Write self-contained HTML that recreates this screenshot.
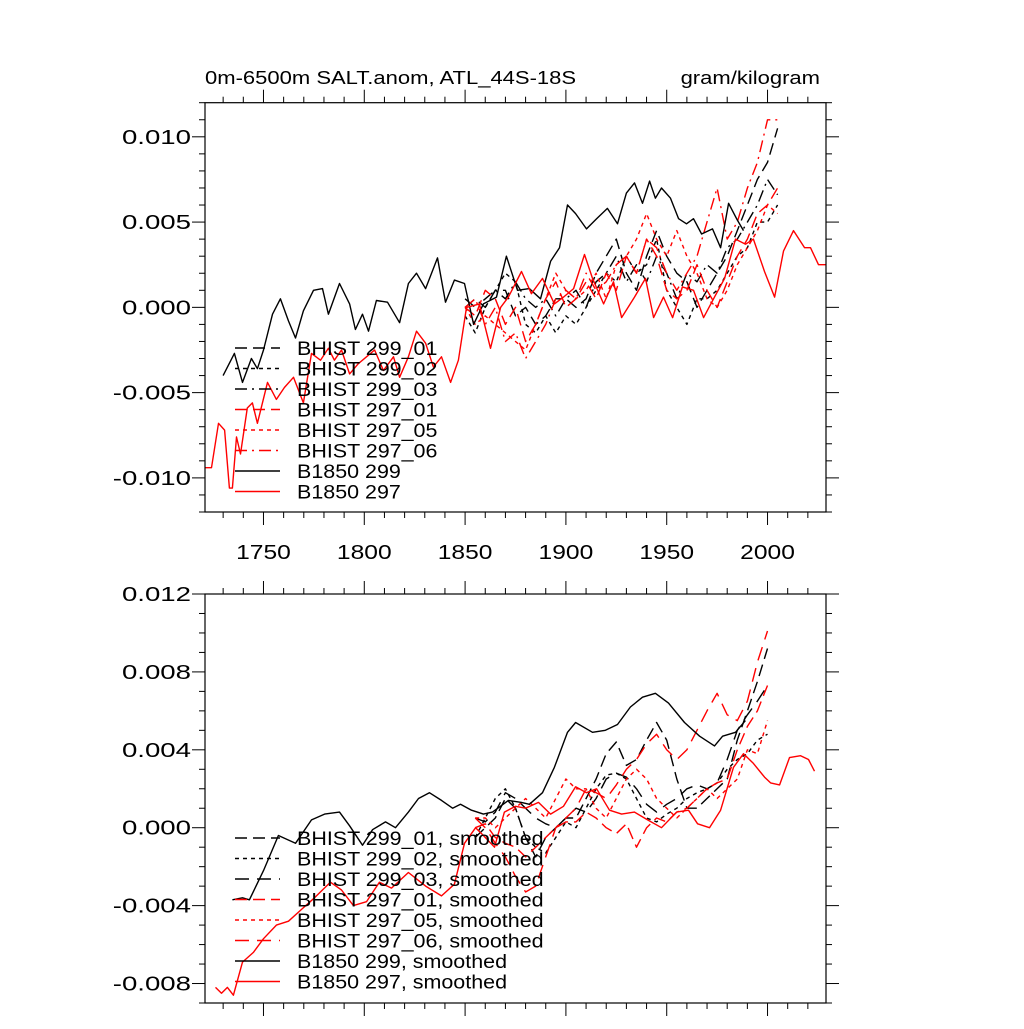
<!DOCTYPE html>
<html><head><meta charset="utf-8"><style>
body{margin:0;background:#fff;}
svg text{font-family:"Liberation Sans",sans-serif;fill:#000;}
</style></head><body>
<svg id="chart" width="1024" height="1024" viewBox="0 0 1024 1024" xmlns="http://www.w3.org/2000/svg">
<rect width="1024" height="1024" fill="#fff"/>
<text transform="translate(205,84) scale(1.19,1)" font-size="18.5">0m-6500m SALT.anom, ATL_44S-18S</text>
<text transform="translate(820,84) scale(1.19,1)" font-size="18.5" text-anchor="end">gram/kilogram</text>
<g id="p1"></g>
<g id="p2"></g>
</svg>
<script>
// ---- data (values in 1e-3 g/kg) ----
const histYears = [1850,1855,1860,1865,1870,1875,1880,1885,1890,1895,1900,1905,1910,1915,1920,1925,1930,1935,1940,1945,1950,1955,1960,1965,1970,1975,1980,1985,1990,1995,2000,2005];
const raw299_01 = [0,0.5,0,1,1,-0.5,0,-1,-0.5,0.5,0.5,0,0.5,2,3,4,2,1,3,4.5,3,2,1.5,0,1,2,3,4.5,6,7.5,8.5,10.5];
const raw299_02 = [-0.5,-1.5,0,1,2,1.5,-1,-1.5,-0.5,-1.5,-0.5,-1,0,1,2,1.5,3,2,2.5,4,1,0,-1,0.5,0.5,1,2,3,3.5,5,5,6];
const raw299_03 = [0.5,0,0.5,1,0.5,1.5,0.5,0,0.5,-0.5,0.5,1,0,1.5,2,3,1.5,2.5,1.5,3,2,0.5,2,1.5,2.5,2,3.5,4,5,6,7.5,6.6];
const raw297_01 = [0,-0.5,1,0.5,-1,0,-2,-1,0.5,1.5,0,0.5,1.5,0.5,2,1,3,2,4,3,1,0.5,1,2.5,1,0,1.5,3,4,5.5,6,7];
const raw297_05 = [0,-1,-0.5,-1,-1.5,-2,-2.5,-1,0.5,2,1,0.5,1,2,0.5,2.5,3,4,5.5,4,3,4.5,3,2,0.5,0,1,2.5,3.5,4.5,6,5.5];
const raw297_06 = [0,0.5,-1,0,-2,-1.5,-3,-2,-1,0.5,1,0.5,2,1,1.5,2.5,3,2,4,3.5,2,1,2,3,5,7,4,5,7,8.5,11,11];
const ctl299Years = [1730,1735.6,1739.6,1744,1747,1750,1754.5,1758.4,1762.4,1765.9,1769.8,1774.8,1779.3,1782.2,1787.7,1792.7,1795.6,1799.1,1802.1,1806,1811.5,1817.5,1821.9,1825.9,1830.4,1836.3,1840.3,1844.7,1849.7,1854.2,1859.1,1865.6,1870.5,1876,1881.9,1887.4,1892.4,1896.8,1900.8,1904.8,1910.2,1915.2,1920.6,1925.6,1930,1934,1938,1941.5,1944.4,1947.4,1951.9,1955.9,1959.8,1963.3,1967.3,1972.7,1976.7,1980.7,1985.1,1988.1];
const ctl299Vals = [-4.0,-2.7,-4.4,-3.0,-3.6,-2.5,-0.4,0.5,-0.8,-1.8,-0.2,1.0,1.1,-0.4,1.4,0.2,-1.3,-0.4,-1.4,0.4,0.3,-0.9,1.4,2.0,1.1,2.9,0.3,1.6,1.4,-1.0,0.2,0.6,3.0,1.0,1.1,0.5,2.7,3.5,6.0,5.5,4.6,5.2,5.8,4.9,6.7,7.3,6.1,7.4,6.4,7.0,6.4,5.2,4.9,5.2,4.3,4.6,3.5,6.1,5.1,4.5];
const ctl297Years = [1721.2,1724.2,1727.7,1730.7,1733.1,1734.6,1736.6,1738.6,1742,1744.5,1747,1752,1756.4,1760.4,1764.9,1769.8,1773.8,1778.3,1782.2,1785.2,1788.7,1792.7,1797.1,1801.1,1805.1,1809.5,1814.5,1817.5,1821.9,1825.9,1830.4,1834.3,1838.3,1842.8,1846.7,1850.7,1857.1,1862.6,1867.6,1871.5,1878,1882.9,1888.4,1894.3,1898.8,1903.8,1909.2,1913.2,1918.7,1923.6,1927.6,1934,1939.5,1943.5,1948.4,1952.9,1957.8,1963.3,1968.3,1973.7,1978.7,1984.1,1989.1,1993,1998.5,2003.5,2007.9,2012.9,2018.4,2021.3,2025.3,2029];
const ctl297Vals = [-9.4,-9.4,-6.8,-7.2,-10.6,-10.6,-7.6,-8.6,-5.9,-5.6,-6.8,-4.4,-5.4,-4.7,-4.1,-5.6,-2.7,-3.1,-2.4,-3.1,-2.5,-3.9,-3.3,-2.9,-2.5,-3.7,-2.9,-4.1,-2.9,-1.4,-2.1,-3.5,-2.9,-4.4,-3.1,0.0,0.2,-2.4,0.0,0.6,2.1,0.8,1.7,0.2,0.6,1.1,3.1,1.7,0.2,1.5,-0.6,0.6,1.7,-0.6,0.6,-0.6,1.2,1.0,-0.6,0.6,1.7,4.0,3.7,4.0,2.1,0.6,3.3,4.5,3.5,3.5,2.5,2.5];
// smoothed
const smYears = [1855,1860,1865,1870,1875,1880,1885,1890,1895,1900,1905,1910,1915,1920,1925,1930,1935,1940,1945,1950,1955,1960,1965,1970,1975,1980,1985,1990,1995,2000];
const sm299_01 = [-0.5,0,0.5,1.5,1.0,-0.5,-1.5,-0.5,0,0.5,0.5,1.5,2.5,3.8,4.4,3.2,3.5,4.5,5.4,4.5,2.5,1.0,1.0,1.5,2.0,2.5,4.5,6.0,7.5,9.2];
const sm299_02 = [-0.5,0.5,1.5,2.0,1.0,-0.5,-1.0,-1.3,-0.5,0.3,0.0,1.0,2.0,2.7,2.8,2.5,1.5,0.5,0.3,0.7,1.0,1.5,1.8,2.0,2.3,3.0,3.5,3.8,4.5,4.8];
const sm299_03 = [0.5,0.3,0.8,1.8,1.5,1.0,0.5,0.2,0.0,0.5,1.0,0.8,1.5,2.5,2.8,2.6,2.0,1.2,0.8,1.2,1.5,2.0,2.2,2.0,2.3,3.5,5.0,5.8,6.5,7.3];
const sm297_01 = [0.0,0.2,-0.5,-0.8,-1.0,-1.5,-1.0,-0.5,0.0,0.3,0.3,0.8,0.5,0.0,-0.3,0.2,-1.0,0.0,0.5,0.3,0.8,1.0,1.5,2.0,2.3,2.5,4.0,5.2,6.0,7.3];
const sm297_05 = [0.5,0.5,0.0,0.5,1.0,1.5,1.0,0.5,1.5,2.5,2.0,2.0,1.0,0.5,1.5,2.5,3.0,2.5,1.5,1.0,0.5,1.0,1.5,2.0,1.5,2.0,2.5,4.0,3.8,5.5];
const sm297_06 = [0.5,0.0,-0.8,-1.5,-2.5,-3.3,-3.0,-1.5,0.0,0.5,1.0,2.0,1.8,1.5,2.2,3.0,3.5,4.3,4.8,4.0,3.5,4.0,5.0,6.0,6.9,5.8,5.5,6.5,8.5,10.1];
const smCtl299Years = [1734.6,1739.6,1743,1750,1757.4,1765.9,1773.8,1780.3,1787.7,1792.7,1799.1,1804.1,1810.5,1815.5,1821.9,1826.9,1832.3,1838.3,1843.8,1847.7,1853.2,1859.1,1863.6,1871.5,1878,1881.9,1888.4,1894.3,1900.8,1904.8,1913.2,1919.6,1925.6,1932,1938,1944.4,1950.9,1958.8,1966.3,1973.7,1977.7,1984.1,1989];
const smCtl299Vals = [-3.7,-3.6,-3.7,-2.2,-0.4,-0.8,0.4,0.7,0.8,0.1,-0.9,-0.1,0.3,0.0,0.8,1.5,1.8,1.4,1.0,1.2,0.9,0.7,0.8,1.4,1.3,1.2,1.8,3.1,4.9,5.4,4.9,5.0,5.3,6.2,6.7,6.9,6.4,5.4,4.7,4.2,4.7,4.9,5.5];
const smCtl297Years = [1726.2,1729.2,1732.1,1735.1,1739.6,1745,1750,1756.4,1762.4,1768.8,1775.3,1783.2,1788.7,1794.6,1801.1,1807.5,1813.5,1821.9,1830.4,1838.3,1844.7,1849.7,1855.2,1859.1,1864.6,1869.5,1875,1880,1886.4,1892.4,1898.8,1904.8,1910.2,1915.2,1921.6,1927.6,1934,1940.5,1947.4,1954.9,1960.8,1965.3,1971.2,1976.7,1983.1,1988.1,1993,1998.5,2001.5,2006,2010.9,2016.4,2020.3,2023.3];
const smCtl297Vals = [-8.2,-8.5,-8.2,-8.6,-6.9,-6.4,-5.7,-5.0,-4.8,-4.2,-3.6,-2.8,-3.2,-4.0,-3.8,-2.8,-3.1,-2.3,-3.0,-3.5,-2.9,-0.8,0.0,-0.4,-1.0,0.8,1.1,1.0,1.3,0.7,1.1,2.1,1.8,2.0,0.9,0.7,0.8,0.4,0.0,0.8,0.9,0.2,0.0,0.9,3.1,3.8,3.3,2.6,2.3,2.2,3.6,3.7,3.5,2.9];
const xTickLabels = ["1750","1800","1850","1900","1950","2000"];
const yTickLabelsTop = ["-0.010","-0.005","0.000","0.005","0.010"];
const yTickLabelsBot = ["-0.008","-0.004","0.000","0.004","0.008","0.012"];

const NS="http://www.w3.org/2000/svg";
function mk(tag,parent,attrs){const e=document.createElementNS(NS,tag);for(const k in attrs)e.setAttribute(k,attrs[k]);parent.appendChild(e);return e;}
function txt(parent,x,y,size,sx,anchor,s){const t=mk('text',parent,{transform:'translate('+x+','+y+') scale('+sx+',1)','font-size':size,'text-anchor':anchor});t.textContent=s;return t;}
const X0=205,X1=826,YR0=1721,YR1=2029;
function xs(yr){return X0+(yr-YR0)/(YR1-YR0)*(X1-X0);}
const LONG="12,6",SHORT="4,4",DD="12,5,2,5";

function panel(g,top,bot,vmin,vmax,majorStep,minorStep,yLabels,showX,series,legendY,legendNames){
  const ys=v=>bot-(v-vmin)/(vmax-vmin)*(bot-top);
  const tk=mk('g',g,{stroke:'#000','stroke-width':1});
  
  
  for(let yr=1730;yr<=YR1;yr+=10){const x=xs(yr);const maj=yr%50===0;const L=maj?13:6;
    mk('line',tk,{x1:x,x2:x,y1:bot,y2:bot+L});mk('line',tk,{x1:x,x2:x,y1:top,y2:top-L});}
  const n=Math.round((vmax-vmin)/minorStep);
  for(let i=0;i<=n;i++){const v=vmin+i*minorStep;const y=ys(v);
    const isMaj=Math.abs(v/majorStep-Math.round(v/majorStep))<1e-6;const L=isMaj?13:6;
    mk('line',tk,{x1:X0,x2:X0-L,y1:y,y2:y});mk('line',tk,{x1:X1,x2:X1+L,y1:y,y2:y});}
  let li=0;
  for(let i=0;i<=n;i++){const v=vmin+i*minorStep;if(Math.abs(v/majorStep-Math.round(v/majorStep))>1e-6)continue;
    const t=txt(g,191,ys(v)+7,20,1.38,'end',yLabels[li++]);
    
    }
  if(showX){xTickLabels.forEach(s=>{const t=txt(g,xs(+s),559,20,1.23,'middle',s);
    
    });}
  series.forEach(s=>{const d=s.x.map((yr,i)=>(i?'L':'M')+xs(yr).toFixed(1)+','+ys(s.y[i]).toFixed(1)).join('');
    const p=mk('path',g,{d:d,fill:'none',stroke:s.c,'stroke-width':1.4,'stroke-dasharray':s.dash||'none','stroke-linejoin':'round'});
    
    });
  const fr=mk('rect',g,{x:X0,y:top,width:X1-X0,height:bot-top,fill:'none',stroke:'#000','stroke-width':1.2});
  
  
  series.forEach((s,i)=>{const y=legendY+i*20.5;
    const lg=mk('g',g,{});
    
    
    mk('line',lg,{x1:235,x2:280,y1:y,y2:y,stroke:s.c,'stroke-width':1.4,'stroke-dasharray':s.dash||'none'});
    txt(lg,297,y+7,19,1.13,'start',legendNames[i]);});
}
const p1=document.getElementById('p1'),p2=document.getElementById('p2');
panel(p1,102.7,512,-12,12,5,1,yTickLabelsTop,true,[
 {x:histYears,y:raw299_01,c:'#000',dash:LONG,name:'series-bhist-299-01'},
 {x:histYears,y:raw299_02,c:'#000',dash:SHORT,name:'series-bhist-299-02'},
 {x:histYears,y:raw299_03,c:'#000',dash:DD,name:'series-bhist-299-03'},
 {x:histYears,y:raw297_01,c:'#f00',dash:LONG,name:'series-bhist-297-01'},
 {x:histYears,y:raw297_05,c:'#f00',dash:SHORT,name:'series-bhist-297-05'},
 {x:histYears,y:raw297_06,c:'#f00',dash:DD,name:'series-bhist-297-06'},
 {x:ctl299Years,y:ctl299Vals,c:'#000',name:'series-b1850-299'},
 {x:ctl297Years,y:ctl297Vals,c:'#f00',name:'series-b1850-297'}],348,
 ["BHIST 299_01","BHIST 299_02","BHIST 299_03","BHIST 297_01","BHIST 297_05","BHIST 297_06","B1850 299","B1850 297"]);
panel(p2,594,1003,-9,12,4,1,yTickLabelsBot,false,[
 {x:smYears,y:sm299_01,c:'#000',dash:LONG,name:'series-bhist-299-01-smoothed'},
 {x:smYears,y:sm299_02,c:'#000',dash:SHORT,name:'series-bhist-299-02-smoothed'},
 {x:smYears,y:sm299_03,c:'#000',dash:"14,8",name:'series-bhist-299-03-smoothed'},
 {x:smYears,y:sm297_01,c:'#f00',dash:LONG,name:'series-bhist-297-01-smoothed'},
 {x:smYears,y:sm297_05,c:'#f00',dash:SHORT,name:'series-bhist-297-05-smoothed'},
 {x:smYears,y:sm297_06,c:'#f00',dash:"14,8",name:'series-bhist-297-06-smoothed'},
 {x:smCtl299Years,y:smCtl299Vals,c:'#000',name:'series-b1850-299-smoothed'},
 {x:smCtl297Years,y:smCtl297Vals,c:'#f00',name:'series-b1850-297-smoothed'}],838,
 ["BHIST 299_01, smoothed","BHIST 299_02, smoothed","BHIST 299_03, smoothed","BHIST 297_01, smoothed","BHIST 297_05, smoothed","BHIST 297_06, smoothed","B1850 299, smoothed","B1850 297, smoothed"]);
</script>
</body></html>
